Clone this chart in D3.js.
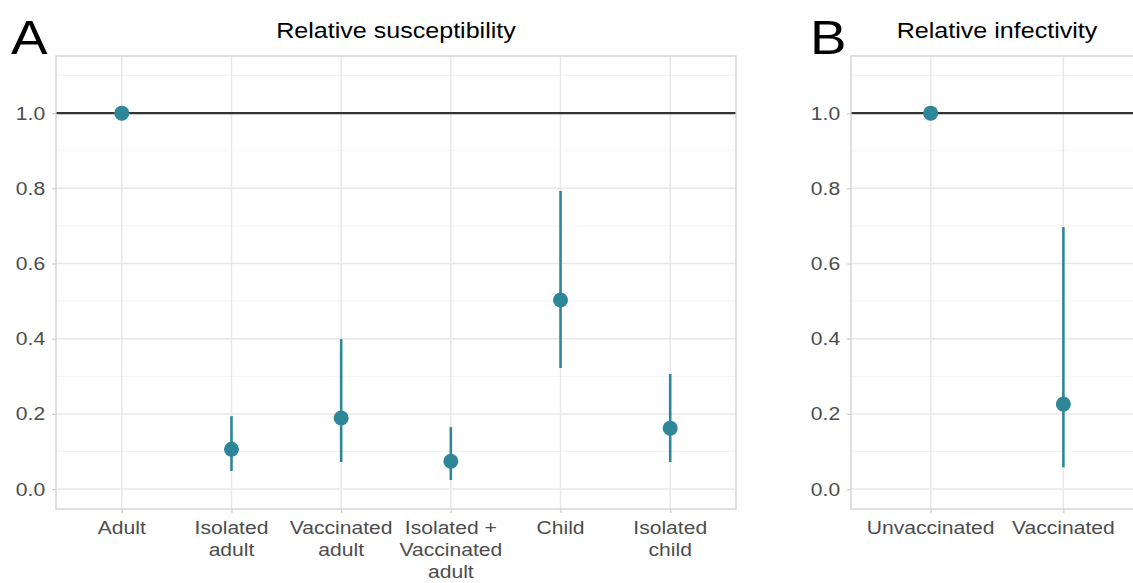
<!DOCTYPE html>
<html>
<head>
<meta charset="utf-8">
<script src="https://cdn.jsdelivr.net/npm/d3@7"></script>
<style>
  body { margin: 0; background: #fff; }
  svg { font-family: "Liberation Sans", Arial, sans-serif; }
</style>
</head>
<body>
<svg id="chart" width="1133" height="583"></svg>
<script>
// panel A data
const suscCategories = ["Adult", "Isolated\nadult", "Vaccinated\nadult", "Isolated +\nVaccinated\nadult", "Child", "Isolated\nchild"];
const suscEstimate = [1.0, 0.106, 0.189, 0.074, 0.503, 0.162];
const suscLower = [null, 0.048, 0.072, 0.024, 0.322, 0.072];
const suscUpper = [null, 0.194, 0.399, 0.165, 0.793, 0.306];

// panel B data
const infCategories = ["Unvaccinated", "Vaccinated"];
const infEstimate = [1.0, 0.226];
const infLower = [null, 0.058];
const infUpper = [null, 0.697];

const yMajor = [0, 0.2, 0.4, 0.6, 0.8, 1.0];
const yMinor = [0.1, 0.3, 0.5, 0.7, 0.9, 1.1];

const teal = "#2e8799";
const stretch = 1.14; // text in the figure is a bit wider than plain Arial
const svg = d3.select("#chart");

// text helper: position then stretch horizontally
function wideText(parent, x, y, size) {
	return parent.append("text")
		.attr("transform", `translate(${x}, ${y}) scale(${stretch}, 1)`)
		.attr("font-size", size + "px");
}

function drawPanel(cfg) {
	const { left, right, top, bottom, cats, est, lo, hi, title, letter, letterX } = cfg;

	const n = cats.length;
	const xScale = d3.scaleLinear().domain([0.4, n + 0.6]).range([left, right]);
	const yScale = d3.scaleLinear().domain([-0.053, 1.152]).range([bottom, top]);

	const g = svg.append("g");

	const clipId = "clip" + letter;
	svg.append("clipPath").attr("id", clipId)
		.append("rect")
		.attr("x", left).attr("y", top)
		.attr("width", right - left).attr("height", bottom - top);

	const plotG = g.append("g").attr("clip-path", `url(#${clipId})`);

	// minor grid
	plotG.selectAll(".minor")
		.data(yMinor)
		.enter()
		.append("line")
		.attr("x1", left).attr("x2", right)
		.attr("y1", d => yScale(d)).attr("y2", d => yScale(d))
		.attr("stroke", "#f3f3f3")
		.attr("stroke-width", 1);

	// major grid
	plotG.selectAll(".major")
		.data(yMajor)
		.enter()
		.append("line")
		.attr("x1", left).attr("x2", right)
		.attr("y1", d => yScale(d)).attr("y2", d => yScale(d))
		.attr("stroke", "#e8e8e8")
		.attr("stroke-width", 1.5);

	plotG.selectAll(".vgrid")
		.data(cats)
		.enter()
		.append("line")
		.attr("x1", (d, i) => xScale(i + 1)).attr("x2", (d, i) => xScale(i + 1))
		.attr("y1", top).attr("y2", bottom)
		.attr("stroke", "#e8e8e8")
		.attr("stroke-width", 1.5);

	// reference line at 1
	plotG.append("line")
		.attr("x1", left).attr("x2", right)
		.attr("y1", yScale(1)).attr("y2", yScale(1))
		.attr("stroke", "#333333")
		.attr("stroke-width", 2.2);

	// error bars
	plotG.selectAll(".err")
		.data(est.map((d, i) => i).filter(i => lo[i] !== null))
		.enter()
		.append("line")
		.attr("x1", i => xScale(i + 1)).attr("x2", i => xScale(i + 1))
		.attr("y1", i => yScale(lo[i])).attr("y2", i => yScale(hi[i]))
		.attr("stroke", teal)
		.attr("stroke-width", 2.6);

	// points
	plotG.selectAll(".pt")
		.data(est)
		.enter()
		.append("circle")
		.attr("cx", (d, i) => xScale(i + 1))
		.attr("cy", d => yScale(d))
		.attr("r", 7.5)
		.attr("fill", teal);

	// panel border
	g.append("rect")
		.attr("x", left).attr("y", top)
		.attr("width", right - left).attr("height", bottom - top)
		.attr("fill", "none")
		.attr("stroke", "#cfcfcf")
		.attr("stroke-width", 1.3);

	// y axis
	const yAxis = g.append("g")
		.attr("transform", `translate(${left}, 0)`)
		.call(d3.axisLeft(yScale).tickValues(yMajor).tickFormat(d3.format(".1f")).tickSize(4).tickPadding(5.5));
	yAxis.select(".domain").remove();
	yAxis.selectAll(".tick line").attr("stroke", "#cfcfcf").attr("stroke-width", 1.3);
	yAxis.selectAll("text")
		.attr("transform", `scale(${stretch}, 1)`)
		.attr("fill", "#4d4d4d")
		.attr("font-size", "18.5px")
		.attr("font-family", "Liberation Sans, Arial, sans-serif");

	// x axis
	const xAxis = g.append("g")
		.attr("transform", `translate(0, ${bottom})`)
		.call(d3.axisBottom(xScale).tickValues(cats.map((d, i) => i + 1)).tickFormat("").tickSize(4));
	xAxis.select(".domain").remove();
	xAxis.selectAll(".tick line").attr("stroke", "#cfcfcf").attr("stroke-width", 1.3);

	cats.forEach((c, i) => {
		const t = wideText(g, xScale(i + 1), bottom + 25, 18.5)
			.attr("text-anchor", "middle")
			.attr("fill", "#4d4d4d");
		c.split("\n").forEach((line, j) => {
			t.append("tspan")
				.attr("x", 0)
				.attr("dy", j === 0 ? 0 : 22)
				.text(line);
		});
	});

	// title
	wideText(g, (left + right) / 2, 38, 22)
		.attr("text-anchor", "middle")
		.attr("fill", "#000")
		.text(title);

	// panel letter
	wideText(g, letterX, 54, 48)
		.attr("fill", "#000")
		.text(letter);
}

drawPanel({
	left: 56, right: 736, top: 56, bottom: 509,
	cats: suscCategories, est: suscEstimate, lo: suscLower, hi: suscUpper,
	title: "Relative susceptibility", letter: "A", letterX: 11
});

drawPanel({
	left: 851, right: 1143, top: 56, bottom: 509,
	cats: infCategories, est: infEstimate, lo: infLower, hi: infUpper,
	title: "Relative infectivity", letter: "B", letterX: 810
});
</script>
</body>
</html>
